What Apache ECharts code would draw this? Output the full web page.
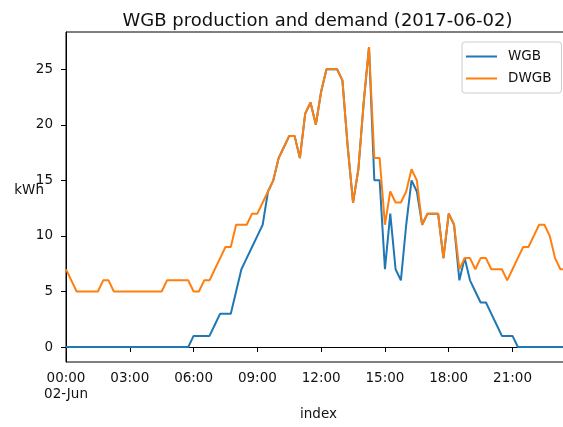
<!DOCTYPE html>
<html>
<head>
<meta charset="utf-8">
<script src="https://cdn.jsdelivr.net/npm/echarts@6/dist/echarts.min.js"></script>
<style>
html,body{margin:0;padding:0;background:#fff;}
#c{width:563px;height:427px;}
</style>
</head>
<body>
<div id="c"></div>
<script>
const times = [
"00:00","00:15","00:30","00:45","01:00","01:15","01:30","01:45",
"02:00","02:15","02:30","02:45","03:00","03:15","03:30","03:45",
"04:00","04:15","04:30","04:45","05:00","05:15","05:30","05:45",
"06:00","06:15","06:30","06:45","07:00","07:15","07:30","07:45",
"08:00","08:15","08:30","08:45","09:00","09:15","09:30","09:45",
"10:00","10:15","10:30","10:45","11:00","11:15","11:30","11:45",
"12:00","12:15","12:30","12:45","13:00","13:15","13:30","13:45",
"14:00","14:15","14:30","14:45","15:00","15:15","15:30","15:45",
"16:00","16:15","16:30","16:45","17:00","17:15","17:30","17:45",
"18:00","18:15","18:30","18:45","19:00","19:15","19:30","19:45",
"20:00","20:15","20:30","20:45","21:00","21:15","21:30","21:45",
"22:00","22:15","22:30","22:45","23:00","23:15","23:30","23:45"
];
const wgb = [
0,0,0,0,0,0,0,0,
0,0,0,0,0,0,0,0,
0,0,0,0,0,0,0,0,
1,1,1,1,2,3,3,3,
5,7,8,9,10,11,14,15,
17,18,19,19,17,21,22,20,
23,25,25,25,24,18,13,16,
22,27,15,15,7,12,7,6,
11,15,14,11,12,12,12,8,
12,11,6,8,6,5,4,4,
3,2,1,1,1,0,0,0,
0,0,0,0,0,0,0,0
];
const dwgb = [
7,6,5,5,5,5,5,6,
6,5,5,5,5,5,5,5,
5,5,5,6,6,6,6,6,
5,5,6,6,7,8,9,9,
11,11,11,12,12,13,14,15,
17,18,19,19,17,21,22,20,
23,25,25,25,24,18,13,16,
22,27,17,17,11,14,13,13,
14,16,15,11,12,12,12,8,
12,11,7,8,8,7,8,8,
7,7,7,6,7,8,9,9,
10,11,11,10,8,7,7,7
];
const yTicks = [0,5,10,15,20,25];
const dateLabel = "02-Jun";
const titleText = "WGB production and demand (2017-06-02)";

const FONT = "DejaVu Sans";
const chart = echarts.init(document.getElementById('c'), null, {renderer:'canvas'});
chart.setOption({
  animation: false,
  backgroundColor: '#fff',
  title: {
    text: titleText,
    left: 312.5,
    textAlign: 'center',
    top: 7,
    textStyle: {fontFamily: FONT, fontSize: 18, fontWeight: 'normal', color: '#111'}
  },
  legend: {
    orient: 'vertical',
    left: 462,
    top: 42,
    data: ['WGB','DWGB'],
    icon: 'rect',
    itemWidth: 31,
    itemHeight: 2,
    itemGap: 7,
    padding: [7, 10, 7, 4],
    backgroundColor: 'rgba(255,255,255,0.8)',
    borderColor: '#ccc',
    borderWidth: 1,
    borderRadius: 3,
    textStyle: {fontFamily: FONT, fontSize: 13.5, color: '#111', padding: [0,0,0,6], lineHeight: 15}
  },
  grid: {
    left: 66, top: 32, width: 505, height: 330,
    containLabel: false,
    outerBoundsMode: 'none',
    show: true, borderColor: '#000', borderWidth: 1
  },
  xAxis: {
    type: 'category',
    data: times,
    boundaryGap: false,
    name: 'index',
    nameLocation: 'middle',
    nameGap: 45,
    nameMoveOverlap: false,
    nameTextStyle: {fontFamily: FONT, fontSize: 13.5, color: '#111'},
    axisLine: {lineStyle: {color: '#000', width: 1}},
    axisTick: {interval: 11, length: 5, lineStyle: {color: '#000'}},
    axisLabel: {
      interval: 11,
      margin: 8,
      fontFamily: FONT, fontSize: 13.5, color: '#111', lineHeight: 16,
      formatter: function (v, i) { return i === 0 ? v + '\n' + dateLabel : v; }
    },
    splitLine: {show: false}
  },
  yAxis: {
    type: 'value',
    min: -1.35,
    max: 28.35,
    name: 'kWh',
    nameLocation: 'middle',
    nameRotate: 0,
    nameGap: 22,
    nameMoveOverlap: false,
    nameTextStyle: {fontFamily: FONT, fontSize: 13.5, color: '#111', align: 'right', verticalAlign: 'bottom'},
    axisLine: {show: true, lineStyle: {color: '#000', width: 1}},
    axisTick: {show: true, length: 5, lineStyle: {color: '#000'}, customValues: yTicks},
    axisLabel: {margin: 13, fontFamily: FONT, fontSize: 13.5, color: '#111', customValues: yTicks},
    splitLine: {show: false}
  },
  series: [
    {name: 'WGB', type: 'line', data: wgb, symbol: 'none', clip: true,
     lineStyle: {color: '#1f77b4', width: 2}, itemStyle: {color: '#1f77b4'}},
    {name: 'DWGB', type: 'line', data: dwgb, symbol: 'none', clip: true,
     lineStyle: {color: '#ff7f0e', width: 2}, itemStyle: {color: '#ff7f0e'}}
  ]
});
</script>
</body>
</html>
